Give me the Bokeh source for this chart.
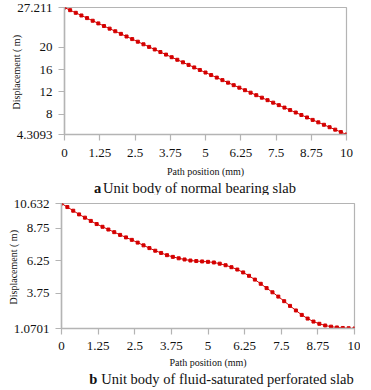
from bokeh.plotting import figure
from bokeh.layouts import column, row
from bokeh.models import FixedTicker, Spacer
from bokeh.core.properties import value
from bokeh.embed import file_html
from bokeh.resources import INLINE

positions = [round(i * 0.2, 1) for i in range(51)]

disp_a = [27.211, 26.731, 26.253, 25.775, 25.298, 24.822, 24.347, 23.873, 23.399, 22.927,
          22.455, 21.984, 21.514, 21.045, 20.577, 20.110, 19.644, 19.178, 18.714, 18.250,
          17.787, 17.325, 16.864, 16.404, 15.944, 15.486, 15.028, 14.572, 14.116, 13.661,
          13.207, 12.754, 12.302, 11.850, 11.400, 10.950, 10.501, 10.053, 9.606, 9.160,
          8.715, 8.271, 7.827, 7.385, 6.943, 6.502, 6.062, 5.623, 5.185, 4.747, 4.3093]

disp_b = [10.632, 10.36, 10.08, 9.80, 9.55, 9.30, 9.06, 8.85, 8.64, 8.44,
          8.23, 8.04, 7.85, 7.64, 7.43, 7.22, 7.02, 6.85, 6.68, 6.55,
          6.44, 6.35, 6.27, 6.23, 6.20, 6.17, 6.12, 6.03, 5.91, 5.76,
          5.58, 5.36, 5.10, 4.81, 4.49, 4.16, 3.84, 3.51, 3.16, 2.80,
          2.45, 2.11, 1.83, 1.60, 1.43, 1.30, 1.21, 1.15, 1.11, 1.09, 1.0701]

x_ticks = [0, 1.25, 2.5, 3.75, 5, 6.25, 7.5, 8.75, 10]
x_tick_labels = ["0", "1.25", "2.5", "3.75", "5", "6.25", "7.5", "8.75", "10"]

y_ticks_a = [4.3093, 8, 12, 16, 20, 27.211]
y_tick_labels_a = ["4.3093", "8", "12", "16", "20", "27.211"]
y_ticks_b = [1.0701, 3.75, 6.25, 8.75, 10.632]
y_tick_labels_b = ["1.0701", "3.75", "6.25", "8.75", "10.632"]

caption_a = ["a", "Unit body of normal bearing slab"]
caption_b = ["b", "Unit body of fluid-saturated perforated slab"]

FONT = "Liberation Serif"
GREY = "#b4b4b4"
RED = "#d40000"
INK = "#111111"


def make(ys, yticks, ylabels, frame_w, frame_h, mbl, mbr, mbt, mbb, lab_so, title_so):
    p = figure(output_backend="svg", toolbar_location=None,
               frame_width=frame_w, frame_height=frame_h,
               min_border_left=mbl, min_border_right=mbr,
               min_border_top=mbt, min_border_bottom=mbb,
               x_range=(0, 10), y_range=(yticks[0], yticks[-1]))
    p.line(positions, ys, line_color=RED, line_width=1.0)
    p.scatter(positions, ys, marker="square", size=3, fill_color=RED, line_color=RED)
    p.xgrid.visible = False
    p.ygrid.visible = False
    p.outline_line_color = GREY
    p.outline_line_width = 1.2
    p.xaxis.ticker = FixedTicker(ticks=x_ticks)
    p.xaxis.major_label_overrides = {t: l for t, l in zip(x_ticks, x_tick_labels)}
    p.yaxis.ticker = FixedTicker(ticks=yticks)
    p.yaxis.major_label_overrides = {t: l for t, l in zip(yticks, ylabels)}
    for ax in (p.xaxis, p.yaxis):
        ax.axis_line_color = GREY
        ax.axis_line_width = 1.5
        ax.major_tick_line_color = GREY
        ax.major_tick_line_width = 1.2
        ax.major_tick_out = 6
        ax.major_tick_in = 0
        ax.minor_tick_line_color = None
        ax.major_label_text_font = FONT
        ax.major_label_text_font_size = "13px"
        ax.major_label_text_color = INK
        ax.axis_label_text_font = FONT
        ax.axis_label_text_font_size = "10px"
        ax.axis_label_text_font_style = "normal"
        ax.axis_label_text_color = INK
    p.xaxis.major_label_standoff = lab_so
    p.xaxis.axis_label_standoff = title_so
    p.yaxis.major_label_standoff = 6
    p.yaxis.axis_label_standoff = -8
    p.xaxis.axis_label = "Path position (mm)"
    p.yaxis.axis_label = "Displacement (  m)"
    return p


def caption(words, total_w, left_px, fw, height, xs, y_from_top):
    x0 = -left_px * 10 / fw
    x1 = x0 + total_w * 10 / fw
    c = figure(output_backend="svg", toolbar_location=None,
               width=total_w, height=height,
               min_border_left=0, min_border_right=0, min_border_top=0, min_border_bottom=0,
               x_range=(x0, x1), y_range=(0, height))
    c.axis.visible = False
    c.grid.visible = False
    c.outline_line_color = None
    yy = height - y_from_top
    c.text(x=[xs[0]], y=[yy], text=[words[0]], text_font=value(FONT),
           text_font_size="14.5px", text_font_style="bold", text_baseline="middle",
           text_align="left", text_color=INK)
    c.text(x=[xs[1]], y=[yy], text=[words[1]], text_font=value(FONT),
           text_font_size="14.5px", text_baseline="middle",
           text_align="left", text_color=INK)
    return c


pa = make(disp_a, y_ticks_a, y_tick_labels_a, 282, 127, 49, 12, 7, 45, 8, 6)
ca = caption(caption_a, 355, 56, 282, 16, [1.33, 1.65], 8)
pb = make(disp_b, y_ticks_b, y_tick_labels_b, 293, 125, 52, 6, 8, 42, 7, 4)
cb = caption(caption_b, 355, 55, 293, 18, [1.15, 1.56], 8)

layout = column(row(Spacer(width=7, height=10), pa, spacing=0), ca,
                row(Spacer(width=4, height=10), pb, spacing=0), cb, spacing=0)
open("out.html", "w").write(file_html(layout, INLINE))
